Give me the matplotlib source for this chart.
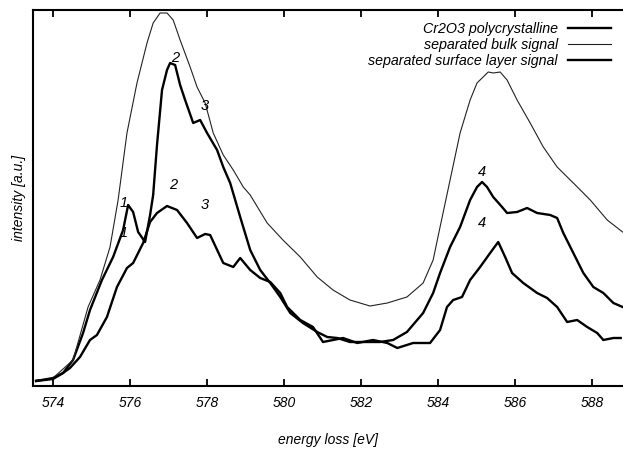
import matplotlib
matplotlib.use("Agg")
import matplotlib.pyplot as plt

plt.rcParams['font.family'] = ['Liberation Sans', 'DejaVu Sans']

# ---- data ----
bulk_e = [573.56, 573.79, 574.00, 574.52, 574.91, 575.22, 575.48, 575.69, 575.92, 576.18,
          576.44, 576.60, 576.78, 576.96, 577.12, 577.30, 577.56, 577.74, 577.95, 578.16,
          578.42, 578.68, 578.94, 579.12, 579.56, 579.97, 580.42, 580.86, 581.27, 581.71,
          582.23, 582.68, 583.19, 583.61, 583.87, 584.05, 584.31, 584.57, 584.83, 585.01,
          585.30, 585.43, 585.61, 585.79, 586.05, 586.39, 586.73, 587.09, 587.51, 587.95,
          588.39, 588.79]
bulk_i = [6, 6, 8, 26, 79, 106, 139, 186, 253, 303,
          343, 363, 373, 373, 366, 346, 319, 299, 283, 253,
          231, 216, 199, 191, 163, 146, 129, 109, 96, 86,
          80, 83, 89, 103, 126, 159, 206, 253, 286, 303,
          314, 313, 314, 306, 286, 263, 239, 219, 203, 186,
          166, 154]

cr2o3_e = [573.56, 574.00, 574.26, 574.52, 574.78, 574.96, 575.27, 575.56, 575.82, 575.95,
           576.08, 576.21, 576.39, 576.52, 576.60, 576.70, 576.83, 576.96, 577.04, 577.17,
           577.30, 577.43, 577.64, 577.82, 578.00, 578.26, 578.42, 578.60, 578.86, 579.12,
           579.38, 579.64, 579.90, 580.16, 580.49, 580.86, 581.12, 581.38, 581.71, 582.16,
           582.49, 582.83, 583.19, 583.61, 583.87, 584.05, 584.31, 584.57, 584.83, 585.01,
           585.14, 585.27, 585.43, 585.66, 585.79, 586.05, 586.31, 586.57, 586.91, 587.09,
           587.25, 587.51, 587.77, 588.03, 588.29, 588.55, 588.79]
cr2o3_i = [5, 8, 13, 26, 53, 76, 106, 129, 156, 181,
           174, 154, 144, 171, 191, 241, 296, 316, 323, 321,
           301, 286, 263, 266, 253, 236, 219, 203, 169, 136,
           116, 103, 89, 73, 63, 54, 49, 48, 44, 44,
           44, 46, 54, 73, 93, 113, 139, 159, 186, 199,
           204, 199, 189, 179, 173, 174, 178, 173, 171, 168,
           153, 133, 113, 99, 93, 83, 79]

surf_e = [573.56, 574.00, 574.26, 574.44, 574.70, 574.96, 575.14, 575.40, 575.66, 575.92,
          576.08, 576.34, 576.52, 576.70, 576.96, 577.22, 577.48, 577.74, 577.95, 578.08,
          578.42, 578.68, 578.86, 579.12, 579.38, 579.64, 579.90, 580.08, 580.42, 580.75,
          581.01, 581.27, 581.53, 581.90, 582.31, 582.68, 582.94, 583.35, 583.79, 584.05,
          584.23, 584.39, 584.62, 584.83, 585.09, 585.35, 585.56, 585.74, 585.92, 586.21,
          586.57, 586.83, 587.09, 587.35, 587.61, 587.87, 588.13, 588.29, 588.55, 588.74]
surf_i = [5, 7, 13, 18, 29, 46, 51, 69, 99, 118,
          123, 143, 164, 173, 180, 176, 163, 148, 152, 151,
          123, 119, 128, 116, 108, 104, 93, 79, 66, 59,
          44, 46, 48, 43, 46, 43, 38, 43, 43, 56,
          79, 86, 89, 106, 119, 133, 144, 129, 113, 103,
          93, 88, 79, 64, 66, 59, 53, 46, 48, 48]

peak_labels = ["1", "1", "2", "2", "3", "3", "4", "4"]
peak_e = [575.84, 575.84, 577.17, 577.12, 577.95, 577.95, 585.14, 585.14]
peak_i = [183, 153, 328, 201, 280, 181, 214, 163]

series_names = ["Cr2O3 polycrystalline", "separated bulk signal",
                "separated surface layer signal"]
tick_vals = [574, 576, 578, 580, 582, 584, 586, 588]

# ---- figure ----
fig = plt.figure(figsize=(6.23, 4.5), dpi=100)
ax = fig.add_axes([33 / 623, 1 - 386 / 450, 1 - 33 / 623, 376 / 450])

ax.plot(cr2o3_e, cr2o3_i, color='black', lw=1.7, label=series_names[0])
ax.plot(bulk_e, bulk_i, color='#222222', lw=0.8, label=series_names[1])
ax.plot(surf_e, surf_i, color='black', lw=1.7, label=series_names[2])

for t, e, i in zip(peak_labels, peak_e, peak_i):
    ax.text(e, i, t, fontsize=10.5, style='italic', ha='center', va='center')

ax.set_xlim(573.48, 588.8)
ax.set_ylim(0, 376)
ax.set_xticks(tick_vals)
ax.set_xticklabels([str(v) for v in tick_vals], fontsize=10, style='italic')
ax.set_yticks([])
ax.tick_params(axis='x', direction='in', top=True, length=5, width=1.3, pad=7)
for s in ['left', 'bottom', 'top']:
    ax.spines[s].set_linewidth(1.5)
ax.spines['right'].set_visible(False)

ax.set_xlabel('energy loss [eV]', fontsize=10, style='italic', labelpad=17)
ax.set_ylabel('intensity [a.u.]', fontsize=10, style='italic', labelpad=5)

leg = ax.legend(loc='upper right', frameon=False, markerfirst=False,
                fontsize=10.3, handlelength=3.0, handletextpad=0.7,
                labelspacing=0.15, borderpad=0, borderaxespad=0.85)
for txt in leg.get_texts():
    txt.set_style('italic')

fig.savefig('out.png', dpi=100)
